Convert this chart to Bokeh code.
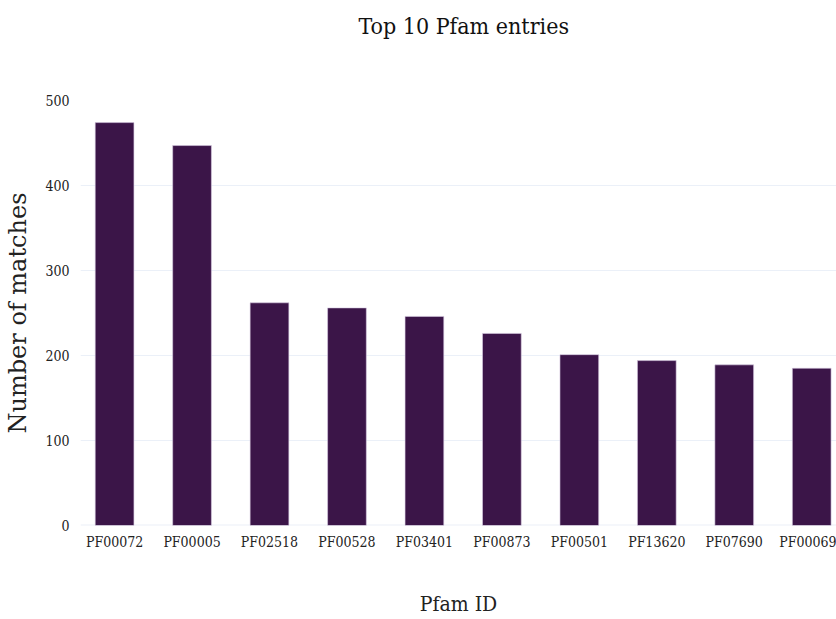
from bokeh.plotting import figure
from bokeh.models import Range1d, Span, FixedTicker
from bokeh.embed import file_html
from bokeh.resources import INLINE

pfam_ids = ["PF00072", "PF00005", "PF02518", "PF00528", "PF03401",
            "PF00873", "PF00501", "PF13620", "PF07690", "PF00069"]
matches = [474, 447, 262, 256, 246, 226, 201, 194, 189, 185]
y_ticks = [0, 100, 200, 300, 400, 500]

xs = list(range(len(pfam_ids)))

p = figure(width=836, height=619, output_backend="svg", toolbar_location=None,
           x_range=Range1d(-0.44, 9.32), y_range=Range1d(0, 500),
           min_border_left=80, min_border_right=0, min_border_top=100,
           min_border_bottom=94)

p.vbar(x=xs, top=matches, width=0.5, color="#3b1548",
       line_color="#d9cce3", line_width=0.6)

cond = "DejaVu Serif Condensed"

# blank trailing lines lift the title into the top margin
p.title.text = "Top 10 Pfam entries\n\u00a0\n\u00a0"
p.title.text_font = cond
p.title.text_font_size = "23px"
p.title.text_font_style = "normal"
p.title.align = "left"
p.title.vertical_align = "top"
p.title.text_color = "#111111"
p.title.offset = 278
p.title.standoff = 16

p.xaxis.ticker = FixedTicker(ticks=xs)
p.xaxis.major_label_overrides = {i: s for i, s in enumerate(pfam_ids)}
p.yaxis.ticker = FixedTicker(ticks=y_ticks)

for ax in (p.xaxis, p.yaxis):
    ax.axis_line_color = None
    ax.major_tick_line_color = None
    ax.minor_tick_line_color = None
    ax.major_label_text_font = cond
    ax.major_label_text_font_size = "14px"
    ax.major_label_text_color = "#222222"

p.xaxis.axis_label = "Pfam ID"
p.xaxis.axis_label_text_font = cond
p.xaxis.axis_label_text_font_size = "21px"
p.xaxis.axis_label_text_font_style = "normal"
p.xaxis.axis_label_text_color = "#222222"
p.xaxis.axis_label_standoff = 39
p.xaxis.major_label_standoff = 2

p.yaxis.axis_label = "Number of matches"
p.yaxis.axis_label_text_font = "DejaVu Serif"
p.yaxis.axis_label_text_font_size = "24px"
p.yaxis.axis_label_text_font_style = "normal"
p.yaxis.axis_label_text_color = "#222222"
p.yaxis.axis_label_standoff = 10
p.yaxis.major_label_standoff = 5

p.xgrid.grid_line_color = None
p.ygrid.grid_line_color = "#ebf0f8"
p.ygrid.grid_line_width = 1
p.outline_line_color = None
p.add_layout(Span(location=0, dimension="width", line_color="#ebf0f8",
                  line_width=2, level="underlay"))

open("out.html", "w").write(file_html(p, INLINE))
